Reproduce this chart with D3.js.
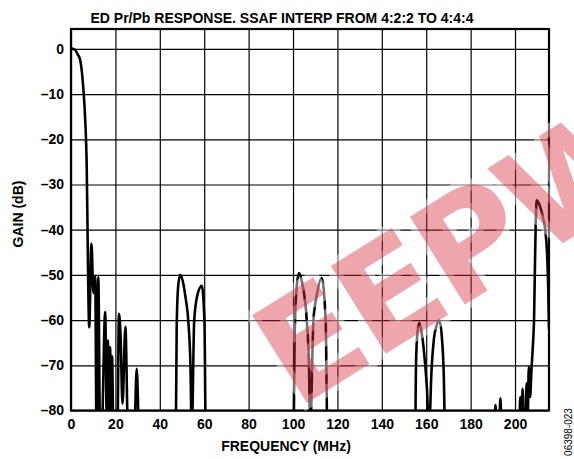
<!DOCTYPE html>
<html>
<head>
<meta charset="utf-8">
<script src="https://cdn.jsdelivr.net/npm/d3@7"></script>
<style>
  body { margin: 0; background: #fff; }
  svg { display: block; font-family: "Liberation Sans", Arial, sans-serif; }
</style>
</head>
<body>
<svg width="574" height="459"></svg>
<script>
// response curve (MHz, dB); -85 = below the visible floor
var freqs = [0, 1, 2, 3, 4.1, 5.5, 6.4, 7.1, 7.4, 7.6,
  8.2, 9.2, 10.1, 10.9, 11.5, 12.3, 13.1, 13.8, 15.4, 16.2, 16.6, 17.1, 17.6, 18.1, 18.5, 19.1,
  20.9, 21.6, 22.3, 23.2, 24.5, 25.7, 28.5, 29.6, 30.7,
  47.2, 47.6, 48.2, 49.1, 50.3, 51.6, 52.8, 53.8, 54.4, 55.5, 57.0, 58.9, 60.1, 60.7,
  100.2, 100.8, 101.6, 102.7, 104.2, 106.2, 107.2, 107.7, 109.2, 110.7, 112.9, 114.7, 115.5,
  155.0, 155.4, 156.0, 156.9, 158.0, 159.0, 160.3, 161.3, 162.3, 163.5, 164.8, 165.9, 167.0, 167.9, 168.5,
  190.6, 191.2, 191.8, 192.8, 193.4, 194.0,
  201.8, 202.4, 202.9, 203.4, 204.0, 204.6, 205.2, 205.7, 206.2, 206.8, 207.4, 208.0, 208.6, 209.0, 209.4, 209.8,
  210.6, 211.8, 212.8, 213.6, 214.4, 214.9, 215.3];
var gains = [0, 0, -0.3, -1.2, -2.4, -8.4, -15.7, -26.8, -37.9, -46,
  -61.6, -43.1, -54, -50.3, -85, -50.5, -85, -85, -58.2, -85, -64.5, -85, -66, -85, -68, -85,
  -85, -58.6, -63, -78.5, -61.5, -85, -85, -70.8, -85,
  -85, -62, -53, -50, -51.3, -55, -60, -70, -85, -60, -54.3, -52.4, -60, -85,
  -85, -62, -53, -49.6, -52, -60.1, -70, -85, -60, -54.5, -50.7, -60, -85,
  -85, -70, -63, -60.6, -63, -67, -75, -85, -72, -64, -61, -60.1, -63.5, -72, -85,
  -85, -78.8, -85, -85, -77.3, -85,
  -85, -77, -85, -75.2, -85, -85, -74, -82, -70.4, -77, -71, -66, -59, -47, -37, -33.5,
  -34, -35.7, -37.8, -40, -45, -52, -62];

var xTicks = [0, 20, 40, 60, 80, 100, 120, 140, 160, 180, 200];
var yTicks = [0, -10, -20, -30, -40, -50, -60, -70, -80];

var titleText = "ED Pr/Pb RESPONSE. SSAF INTERP FROM 4:2:2 TO 4:4:4";

var svg = d3.select("svg");
var plotL = 71, plotR = 549, plotT = 29, plotB = 410.5;

var x = d3.scaleLinear().domain([0, 215.3]).range([plotL, plotR]);
var y = d3.scaleLinear().domain([-80, 4.4]).range([plotB, plotT]);

// grid + tick labels
var xAxis = svg.append("g")
    .attr("transform", "translate(0," + plotB + ")")
    .call(d3.axisBottom(x).tickValues(xTicks).tickSize(-(plotB - plotT)).tickPadding(9));
var yAxis = svg.append("g")
    .attr("transform", "translate(" + plotL + ",0)")
    .call(d3.axisLeft(y).tickValues(yTicks).tickSize(-(plotR - plotL)).tickPadding(7)
      .tickFormat(function(d) { return d < 0 ? "\u2013" + (-d) : d; }));

[xAxis, yAxis].forEach(function(g) {
  g.select(".domain").remove();
  g.selectAll("line").attr("stroke", "#000").attr("stroke-width", 1.2);
  g.selectAll("text")
    .attr("fill", "#000")
    .style("font-size", "14px")
    .style("font-weight", "bold")
    .style("font-family", "'Liberation Sans', Arial, sans-serif");
});

svg.append("clipPath").attr("id", "plot")
  .append("rect").attr("x", plotL).attr("y", plotT)
  .attr("width", plotR - plotL).attr("height", plotB - plotT);

var pts = freqs.map(function(f, i) { return [f, gains[i]]; });
var line = d3.line()
    .x(function(d) { return x(d[0]); })
    .y(function(d) { return y(d[1]); })
    .curve(d3.curveMonotoneX);

svg.append("path")
    .datum(pts)
    .attr("clip-path", "url(#plot)")
    .attr("d", line)
    .attr("fill", "none")
    .attr("stroke", "#000")
    .attr("stroke-width", 2.6)
    .attr("stroke-linejoin", "round");

// frame
svg.append("rect")
    .attr("x", plotL).attr("y", plotT)
    .attr("width", plotR - plotL).attr("height", plotB - plotT)
    .attr("fill", "none").attr("stroke", "#000").attr("stroke-width", 2.2);

// titles
svg.append("text")
    .attr("x", 282).attr("y", 23)
    .attr("text-anchor", "middle")
    .style("font-size", "14px").style("font-weight", "bold")
    .text(titleText);

svg.append("text")
    .attr("x", 286).attr("y", 451)
    .attr("text-anchor", "middle")
    .style("font-size", "14px").style("font-weight", "bold")
    .text("FREQUENCY (MHz)");

svg.append("text")
    .attr("transform", "translate(23,214) rotate(-90)")
    .attr("text-anchor", "middle")
    .style("font-size", "14px").style("font-weight", "bold")
    .text("GAIN (dB)");

svg.append("text")
    .attr("transform", "translate(572,432) rotate(-90)")
    .attr("text-anchor", "middle")
    .style("font-size", "10px")
    .text("06398-023");

// watermark
svg.append("text")
    .attr("transform", "translate(296,410) rotate(-32)")
    .attr("text-anchor", "start")
    .style("font-family", "'DejaVu Sans', sans-serif")
    .style("font-size", "142px").style("font-weight", "bold")
    .attr("letter-spacing", -4)
    .attr("fill", "rgba(215,40,55,0.42)")
    .attr("stroke", "rgba(255,255,255,0.45)")
    .attr("stroke-width", 12)
    .attr("paint-order", "stroke")
    .text("EEPW");
</script>
</body>
</html>
